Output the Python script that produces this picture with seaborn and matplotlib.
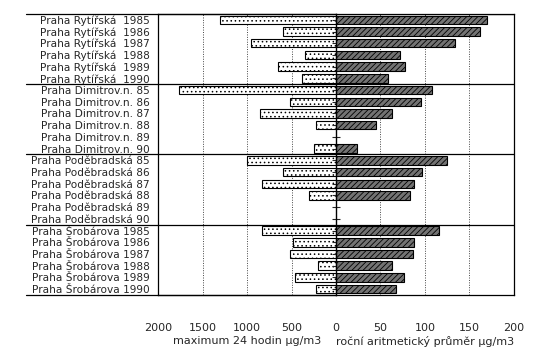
import matplotlib
matplotlib.use("Agg")

import matplotlib.pyplot as plt
import matplotlib.transforms as mtransforms
import numpy as np
import pandas as pd
import seaborn as sns

# --- data ----------------------------------------------------------------
stations = [
    "Praha Rytířská  1985", "Praha Rytířská  1986", "Praha Rytířská  1987",
    "Praha Rytířská  1988", "Praha Rytířská  1989", "Praha Rytířská  1990",
    "Praha Dimitrov.n. 85", "Praha Dimitrov.n. 86", "Praha Dimitrov.n. 87",
    "Praha Dimitrov.n. 88", "Praha Dimitrov.n. 89", "Praha Dimitrov.n. 90",
    "Praha Poděbradská 85", "Praha Poděbradská 86", "Praha Poděbradská 87",
    "Praha Poděbradská 88", "Praha Poděbradská 89", "Praha Poděbradská 90",
    "Praha Šrobárova 1985", "Praha Šrobárova 1986", "Praha Šrobárova 1987",
    "Praha Šrobárova 1988", "Praha Šrobárova 1989", "Praha Šrobárova 1990",
]
# maximum 24 hodin (ug/m3)
max_24h = [1300, 600, 950, 350, 650, 380,
           1760, 520, 850, 220, np.nan, 250,
           1000, 600, 830, 300, np.nan, np.nan,
           830, 480, 520, 200, 460, 230]
# rocni aritmeticky prumer (ug/m3)
annual_mean = [170, 162, 134, 72, 78, 58,
               108, 95, 63, 45, np.nan, 24,
               125, 97, 88, 83, np.nan, np.nan,
               116, 88, 87, 63, 76, 67]
group_size = 6

left_ticks = [2000, 1500, 1000, 500, 0]
right_ticks = [0, 50, 100, 150, 200]

df = pd.DataFrame({"station": stations, "max24": max_24h, "mean": annual_mean})

sns.set_style("white")
plt.rcParams["font.family"] = ["DejaVu Sans"]
plt.rcParams["hatch.linewidth"] = 0.6

fig = plt.figure(figsize=(5.5, 3.6), dpi=100)
ax_l = fig.add_axes([0.2873, 0.1806, 0.3236, 0.7806])
ax_r = fig.add_axes([0.6109, 0.1806, 0.3236, 0.7806], sharey=ax_l)

sns.barplot(data=df.dropna(subset=["max24"]), x="max24", y="station",
            order=stations, orient="h", width=0.72, ax=ax_l,
            color="white", edgecolor="black", linewidth=0.8,
            hatch="....", errorbar=None)
sns.barplot(data=df.dropna(subset=["mean"]), x="mean", y="station",
            order=stations, orient="h", width=0.72, ax=ax_r,
            color="#737373", edgecolor="black", linewidth=0.8,
            hatch="//////", errorbar=None)

ax_l.set_xlim(2000, 0)
ax_r.set_xlim(0, 200)
ax_l.set_ylim(len(stations) - 0.5, -0.5)

for ax, ticks in ((ax_l, left_ticks), (ax_r, right_ticks)):
    ax.set_xticks(ticks)
    ax.xaxis.grid(True, linestyle=(0, (1, 1.5)), color="#444444", linewidth=0.7)
    ax.set_axisbelow(True)
    ax.tick_params(axis="x", direction="inout", length=6, width=0.8,
                   labelsize=8, pad=17)
    for s in ax.spines.values():
        s.set_linewidth(0.9)
        s.set_color("black")
    ax.set_ylabel("")

ax_l.set_xticklabels([str(t) for t in left_ticks])
ax_r.set_xticklabels([""] + [str(t) for t in right_ticks[1:]])
ax_l.spines["right"].set_visible(False)
ax_r.spines["left"].set_linewidth(1.0)

ax_l.tick_params(axis="y", length=0, labelsize=7.6, pad=6)
ax_r.tick_params(axis="y", left=True, labelleft=False, direction="inout",
                 length=6, width=0.8)

ax_l.set_xlabel("maximum 24 hodin µg/m3", fontsize=8, labelpad=2)
ax_r.set_xlabel("roční aritmetický průměr µg/m3", fontsize=8, labelpad=2)

# group separator lines running under the station labels as well
trans = mtransforms.blended_transform_factory(ax_l.transAxes, ax_l.transData)
for k in range(0, len(stations) + 1, group_size):
    y = k - 0.5
    ax_l.plot([-0.74, 1.0], [y, y], transform=trans, color="black",
              linewidth=0.9, clip_on=False)
ax_r.axhline(-0.5, color="black", linewidth=0.9)
for k in range(group_size, len(stations), group_size):
    ax_r.axhline(k - 0.5, color="black", linewidth=0.9)

fig.savefig("out.png", dpi=100)
